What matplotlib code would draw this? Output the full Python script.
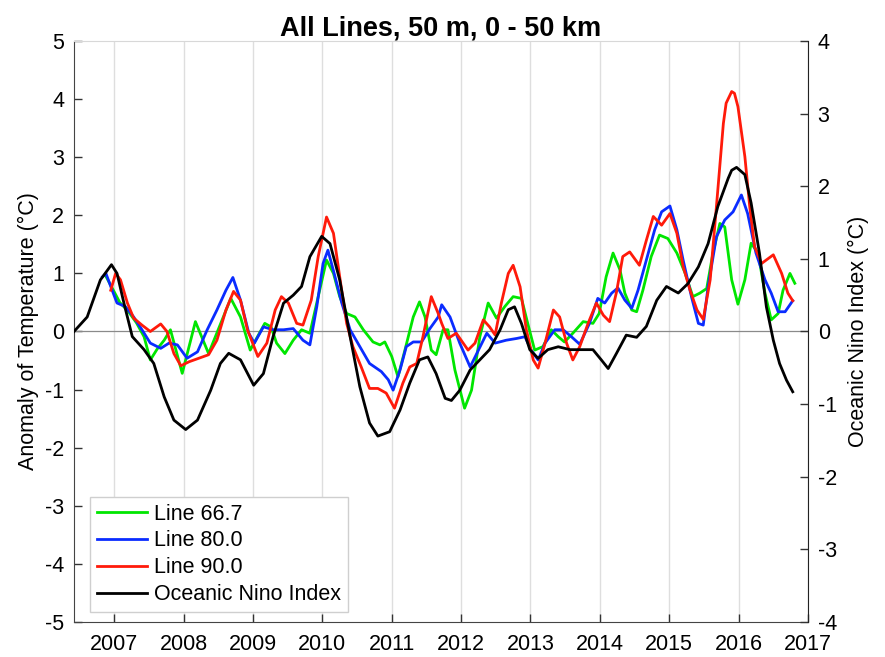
import matplotlib
matplotlib.use("Agg")
import matplotlib.pyplot as plt
import numpy as np

plt.rcParams['font.family'] = ['Liberation Sans', 'DejaVu Sans']
plt.rcParams['axes.unicode_minus'] = False

# ---- data (decimal years, values) ----
oni_t = [2006.42, 2006.61, 2006.80, 2006.96, 2007.04, 2007.14, 2007.26, 2007.43, 2007.57, 2007.72,
         2007.86, 2008.03, 2008.20, 2008.39, 2008.53, 2008.65, 2008.82, 2009.01, 2009.15, 2009.29,
         2009.44, 2009.58, 2009.70, 2009.82, 2009.99, 2010.11, 2010.25, 2010.40, 2010.54, 2010.68,
         2010.80, 2010.97, 2011.12, 2011.26, 2011.40, 2011.52, 2011.64, 2011.77, 2011.86, 2011.98,
         2012.13, 2012.27, 2012.41, 2012.56, 2012.68, 2012.77, 2012.87, 2012.99, 2013.11, 2013.25,
         2013.40, 2013.57, 2013.76, 2013.90, 2014.02, 2014.12, 2014.24, 2014.38, 2014.53, 2014.67,
         2014.82, 2014.96, 2015.13, 2015.27, 2015.42, 2015.56, 2015.70, 2015.85, 2015.90, 2015.97,
         2016.09, 2016.18, 2016.30, 2016.40, 2016.50, 2016.59, 2016.69, 2016.78]
oni_v = [0.00, 0.20, 0.71, 0.92, 0.80, 0.39, -0.07, -0.25, -0.44, -0.90,
         -1.22, -1.35, -1.22, -0.81, -0.44, -0.30, -0.39, -0.74, -0.58, -0.07,
         0.39, 0.50, 0.62, 1.03, 1.31, 1.21, 0.71, -0.07, -0.76, -1.26,
         -1.44, -1.38, -1.08, -0.71, -0.39, -0.35, -0.58, -0.92, -0.95, -0.81,
         -0.53, -0.39, -0.25, 0.02, 0.30, 0.34, 0.11, -0.25, -0.37, -0.25,
         -0.21, -0.25, -0.25, -0.25, -0.39, -0.51, -0.30, -0.05, -0.08, 0.07,
         0.43, 0.62, 0.53, 0.66, 0.89, 1.21, 1.72, 2.11, 2.22, 2.26,
         2.16, 1.77, 1.08, 0.34, -0.12, -0.44, -0.67, -0.83]

l90_t = [2006.95, 2007.02, 2007.09, 2007.19, 2007.28, 2007.40, 2007.52, 2007.67, 2007.76, 2007.86,
         2007.96, 2008.08, 2008.22, 2008.36, 2008.48, 2008.61, 2008.72, 2008.82, 2008.92, 2009.07,
         2009.20, 2009.32, 2009.41, 2009.51, 2009.63, 2009.72, 2009.84, 2009.94, 2010.06, 2010.16,
         2010.25, 2010.35, 2010.44, 2010.56, 2010.68, 2010.80, 2010.92, 2011.04, 2011.16, 2011.26,
         2011.36, 2011.45, 2011.57, 2011.67, 2011.72, 2011.81, 2011.93, 2012.10, 2012.20, 2012.32,
         2012.41, 2012.49, 2012.58, 2012.68, 2012.75, 2012.85, 2012.94, 2013.04, 2013.11, 2013.21,
         2013.33, 2013.42, 2013.52, 2013.61, 2013.71, 2013.83, 2013.95, 2014.05, 2014.14, 2014.24,
         2014.33, 2014.43, 2014.57, 2014.67, 2014.77, 2014.89, 2015.01, 2015.11, 2015.20, 2015.30,
         2015.40, 2015.49, 2015.59, 2015.68, 2015.78, 2015.82, 2015.90, 2015.94, 2015.99, 2016.09,
         2016.16, 2016.23, 2016.33, 2016.50, 2016.62, 2016.71, 2016.78]
l90_v = [0.71, 1.00, 0.89, 0.49, 0.23, 0.11, 0.00, 0.13, 0.00, -0.38,
         -0.59, -0.52, -0.46, -0.40, -0.15, 0.37, 0.69, 0.54, 0.03, -0.43,
         -0.20, 0.37, 0.60, 0.49, 0.14, 0.11, 0.54, 1.29, 1.97, 1.69,
         0.94, 0.14, -0.26, -0.61, -0.98, -0.98, -1.06, -1.32, -0.89, -0.61,
         -0.55, -0.09, 0.60, 0.31, 0.14, -0.12, -0.03, -0.32, -0.20, 0.20,
         0.08, -0.06, 0.49, 1.00, 1.14, 0.77, 0.03, -0.49, -0.63, -0.20,
         0.37, 0.25, -0.20, -0.49, -0.26, 0.14, 0.49, 0.28, 0.17, 0.68,
         1.29, 1.37, 1.14, 1.57, 1.98, 1.83, 2.03, 1.69, 1.12, 0.71,
         0.37, 0.21, 0.89, 2.15, 3.58, 3.93, 4.13, 4.10, 3.87, 3.01,
         2.15, 1.46, 1.17, 1.32, 1.00, 0.66, 0.53]

l80_t = [2006.83, 2006.88, 2006.97, 2007.04, 2007.16, 2007.28, 2007.40, 2007.52, 2007.67, 2007.79,
         2007.91, 2008.05, 2008.20, 2008.34, 2008.48, 2008.61, 2008.71, 2008.82, 2008.94, 2009.02,
         2009.15, 2009.29, 2009.44, 2009.58, 2009.72, 2009.82, 2009.92, 2010.01, 2010.08, 2010.17,
         2010.28, 2010.40, 2010.54, 2010.68, 2010.85, 2010.95, 2011.02, 2011.12, 2011.21, 2011.31,
         2011.43, 2011.55, 2011.67, 2011.72, 2011.84, 2011.98, 2012.13, 2012.25, 2012.37, 2012.49,
         2012.65, 2012.80, 2012.92, 2013.01, 2013.11, 2013.21, 2013.35, 2013.47, 2013.59, 2013.71,
         2013.85, 2013.97, 2014.07, 2014.17, 2014.26, 2014.36, 2014.46, 2014.55, 2014.67, 2014.79,
         2014.89, 2015.01, 2015.11, 2015.20, 2015.32, 2015.42, 2015.49, 2015.56, 2015.68, 2015.80,
         2015.92, 2016.04, 2016.13, 2016.25, 2016.38, 2016.47, 2016.57, 2016.67, 2016.78]
l80_v = [0.94, 1.00, 0.71, 0.49, 0.43, 0.25, 0.03, -0.20, -0.29, -0.20,
         -0.23, -0.46, -0.35, 0.03, 0.37, 0.71, 0.93, 0.54, -0.03, -0.20,
         0.08, 0.03, 0.03, 0.05, -0.15, -0.23, 0.43, 1.17, 1.40, 1.00,
         0.49, 0.03, -0.26, -0.55, -0.69, -0.83, -1.01, -0.66, -0.26, -0.18,
         -0.18, 0.05, 0.25, 0.46, 0.25, -0.20, -0.61, -0.32, -0.03, -0.20,
         -0.15, -0.12, -0.09, -0.32, -0.49, -0.20, 0.03, 0.03, -0.09, -0.22,
         0.14, 0.57, 0.49, 0.66, 0.75, 0.54, 0.40, 0.71, 1.23, 1.75,
         2.06, 2.16, 1.75, 1.23, 0.60, 0.14, 0.11, 0.77, 1.63, 1.92,
         2.06, 2.35, 2.03, 1.35, 0.89, 0.66, 0.34, 0.34, 0.53]

l667_t = [2006.88, 2006.97, 2007.08, 2007.20, 2007.32, 2007.43, 2007.52, 2007.62, 2007.72, 2007.81,
          2007.98, 2008.17, 2008.36, 2008.68, 2008.82, 2008.96, 2009.17, 2009.26, 2009.34, 2009.46,
          2009.58, 2009.70, 2009.82, 2009.94, 2010.06, 2010.16, 2010.25, 2010.35, 2010.47, 2010.59,
          2010.73, 2010.83, 2010.90, 2011.00, 2011.09, 2011.19, 2011.31, 2011.40, 2011.48, 2011.57,
          2011.64, 2011.74, 2011.81, 2011.91, 2012.05, 2012.15, 2012.27, 2012.39, 2012.51, 2012.63,
          2012.75, 2012.87, 2012.96, 2013.06, 2013.18, 2013.30, 2013.40, 2013.49, 2013.61, 2013.76,
          2013.90, 2013.99, 2014.09, 2014.19, 2014.29, 2014.36, 2014.46, 2014.53, 2014.62, 2014.74,
          2014.86, 2014.98, 2015.11, 2015.23, 2015.34, 2015.44, 2015.54, 2015.63, 2015.73, 2015.80,
          2015.90, 2015.99, 2016.09, 2016.18, 2016.28, 2016.38, 2016.47, 2016.57, 2016.64, 2016.74,
          2016.81]
l667_v = [0.95, 0.75, 0.50, 0.35, 0.15, -0.09, -0.49, -0.30, -0.15, 0.03,
          -0.72, 0.17, -0.38, 0.57, 0.25, -0.32, 0.14, 0.08, -0.20, -0.38,
          -0.15, 0.03, -0.03, 0.60, 1.23, 1.00, 0.60, 0.31, 0.25, 0.03,
          -0.18, -0.23, -0.18, -0.43, -0.78, -0.32, 0.25, 0.51, 0.25, -0.32,
          -0.40, 0.03, 0.03, -0.66, -1.32, -1.01, -0.09, 0.49, 0.23, 0.43,
          0.60, 0.57, 0.14, -0.32, -0.26, 0.03, -0.09, -0.18, -0.03, 0.17,
          0.14, 0.31, 0.94, 1.35, 1.06, 0.66, 0.37, 0.34, 0.71, 1.29,
          1.66, 1.60, 1.35, 1.00, 0.60, 0.66, 0.74, 1.35, 1.86, 1.80,
          0.89, 0.47, 0.89, 1.52, 1.35, 0.66, 0.20, 0.31, 0.71, 1.00,
          0.83]

year_ticks = [2007, 2008, 2009, 2010, 2011, 2012, 2013, 2014, 2015, 2016, 2017]
left_ticks = [5, 4, 3, 2, 1, 0, -1, -2, -3, -4, -5]
right_ticks = [4, 3, 2, 1, 0, -1, -2, -3, -4]

W, H = 885, 657
fig = plt.figure(figsize=(W / 100, H / 100), dpi=100)
ax = fig.add_axes([74 / W, 1 - 622 / H, (808 - 74) / W, (622 - 41) / H])
ax2 = ax.twinx()

fs = 15.5
ax.set_xlim(2006.42, 2017.0)
ax.set_ylim(-5, 5)
ax2.set_ylim(-4, 4)

ax.set_xticks(year_ticks)
ax.set_xticklabels([str(y) for y in year_ticks])
ax.set_yticks(left_ticks)
ax2.set_yticks(right_ticks)

ax.grid(axis='x', color='#dedede', linewidth=1.0)
ax.set_axisbelow(True)
ax.axhline(0, color='#8a8a8a', linewidth=0.9, zorder=1)

lw = 2.0
h1, = ax.plot(l667_t, l667_v, color='#00e600', lw=lw, label='Line 66.7', zorder=3, solid_joinstyle='round')
h2, = ax.plot(l80_t, l80_v, color='#0a2cff', lw=lw, label='Line 80.0', zorder=4, solid_joinstyle='round')
h3, = ax.plot(l90_t, l90_v, color='#ff1a0a', lw=lw, label='Line 90.0', zorder=5, solid_joinstyle='round')
h4, = ax2.plot(oni_t, oni_v, color='black', lw=lw, label='Oceanic Nino Index', zorder=2, solid_joinstyle='round')

for a in (ax, ax2):
    a.tick_params(direction='in', length=6, width=1, labelsize=fs, color='#333333')
    for s in a.spines.values():
        s.set_visible(False)
ax.tick_params(axis='x', pad=9)
ax.tick_params(axis='y', pad=7, right=False)
ax2.tick_params(axis='y', pad=7, left=False)

ax.spines['left'].set_visible(True)
ax.spines['left'].set_color('#444444')
ax.spines['bottom'].set_visible(True)
ax.spines['bottom'].set_color('#444444')
ax2.spines['right'].set_visible(True)
ax2.spines['right'].set_color('#222222')
ax.spines['top'].set_visible(True)
ax.spines['top'].set_color('#d8d8d8')

ax.set_ylabel('Anomaly of Temperature (°C)', fontsize=fs, labelpad=4)
ax2.set_ylabel('Oceanic Nino Index (°C)', fontsize=fs, labelpad=8)
ax.set_title('All Lines, 50 m, 0 - 50 km', fontsize=19.5, fontweight='bold', pad=3)

leg = ax.legend(handles=[h1, h2, h3, h4], loc='lower left',
                bbox_to_anchor=((90 - 74) / (808 - 74), (622 - 612) / (622 - 41)),
                fontsize=fs, frameon=True, fancybox=False, framealpha=1,
                borderaxespad=0, handlelength=2.35, handletextpad=0.3,
                labelspacing=0.27, borderpad=0.32)
leg.get_frame().set_edgecolor('#cfcfcf')
leg.get_frame().set_linewidth(1.0)
leg.set_zorder(10)

fig.savefig('out.png', dpi=100)
